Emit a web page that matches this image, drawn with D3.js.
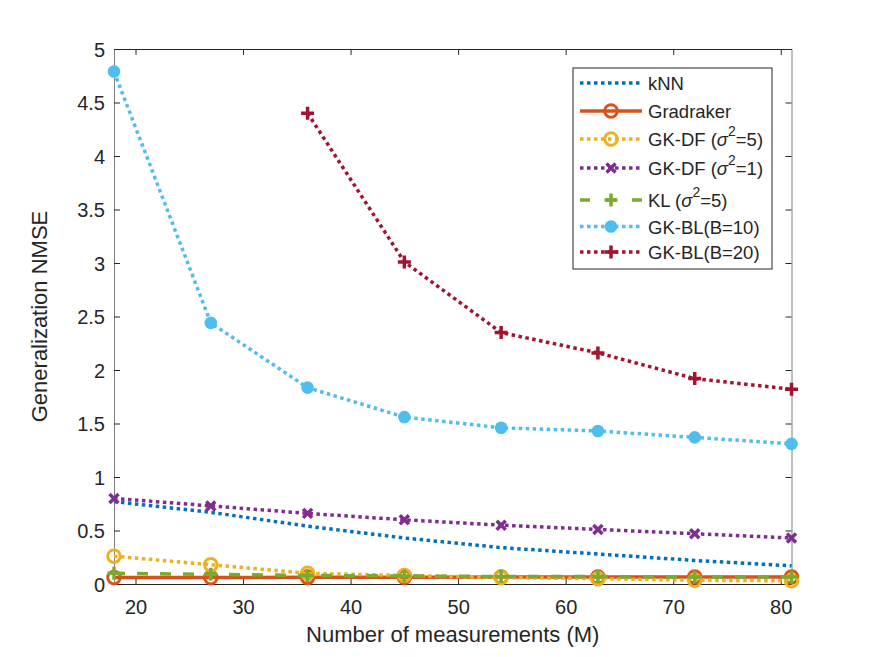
<!DOCTYPE html>
<html><head><meta charset="utf-8">
<script src="https://cdn.jsdelivr.net/npm/d3@7"></script>
<style>body{margin:0;background:#fff}svg{display:block}text{font-family:"Liberation Sans",Arial,sans-serif}</style>
</head><body>
<svg id="c" width="875" height="657"></svg>
<script>
const M = [18, 27, 36, 45, 54, 63, 72, 81];
const M_BL20 = [36, 45, 54, 63, 72, 81];
const knn = [0.77, 0.67, 0.54, 0.43, 0.34, 0.28, 0.22, 0.17];
const gradraker = [0.06, 0.06, 0.062, 0.064, 0.065, 0.065, 0.066, 0.066];
const gkdf5 = [0.26, 0.18, 0.10, 0.08, 0.06, 0.05, 0.035, 0.03];
const gkdf1 = [0.80, 0.73, 0.66, 0.60, 0.55, 0.51, 0.47, 0.43];
const kl5 = [0.10, 0.09, 0.08, 0.075, 0.07, 0.07, 0.065, 0.065];
const gkbl10 = [4.79, 2.44, 1.835, 1.56, 1.46, 1.43, 1.37, 1.31];
const gkbl20 = [4.40, 3.01, 2.35, 2.16, 1.92, 1.82];
const xTicks = [20, 30, 40, 50, 60, 70, 80];
const yTicks = [0, 0.5, 1, 1.5, 2, 2.5, 3, 3.5, 4, 4.5, 5];

const svg = d3.select("#c");
const L = 114, R = 791.5, T = 49, B = 584;
const x = d3.scaleLinear().domain([18, 81]).range([L, R]);
const y = d3.scaleLinear().domain([0, 5]).range([B, T]);

// axes
const axCol = "#262626", yCol = "#808080";
const gx = svg.append("g").attr("transform", `translate(0,${B})`)
  .call(d3.axisBottom(x).tickValues(xTicks).tickSize(-6).tickSizeOuter(0).tickPadding(16).tickFormat(d3.format("d")));
const gxt = svg.append("g").attr("transform", `translate(0,${T})`)
  .call(d3.axisTop(x).tickValues(xTicks).tickSize(-6).tickSizeOuter(0).tickFormat(""));
const gy = svg.append("g").attr("transform", `translate(${L},0)`)
  .call(d3.axisLeft(y).tickValues(yTicks).tickSize(-6).tickSizeOuter(0).tickPadding(9).tickFormat(d => d3.format("")(d)));
const gyr = svg.append("g").attr("transform", `translate(${R},0)`)
  .call(d3.axisRight(y).tickValues(yTicks).tickSize(-6).tickSizeOuter(0).tickFormat(""));
[gx, gxt].forEach(g => { g.selectAll("path,line").attr("stroke", axCol); });
[gy, gyr].forEach(g => { g.selectAll("path,line").attr("stroke", yCol); g.selectAll("line").attr("stroke", axCol); });
[gx, gy].forEach(g => g.selectAll("text").attr("fill", axCol).style("font-size", "20px").style("font-family", '"Liberation Sans",Arial,sans-serif'));
gx.selectAll("text").attr("dy", "0.71em");
gy.selectAll("text").attr("dy", "0.36em");

svg.append("text").attr("x", (L + R) / 2).attr("y", 642).attr("text-anchor", "middle")
  .attr("fill", axCol).style("font-size", "22px").text("Number of measurements (M)");
svg.append("text").attr("transform", `translate(47,${(T + B) / 2}) rotate(-90)`).attr("text-anchor", "middle")
  .attr("fill", axCol).style("font-size", "22px").text("Generalization NMSE");

const plot = svg.append("g");
const line = d3.line().x(d => x(d[0])).y(d => y(d[1]));
const zip = (xs, ys) => xs.map((v, i) => [v, ys[i]]);

const series = [
  {name: "kNN", xs: M, ys: knn, color: "#0072BD", dash: "3.5,3.5", marker: null},
  {name: "Gradraker", xs: M, ys: gradraker, color: "#D95319", dash: null, marker: "o"},
  {name: "GK-DF5", xs: M, ys: gkdf5, color: "#EDB120", dash: "3.5,3.5", marker: "o"},
  {name: "GK-DF1", xs: M, ys: gkdf1, color: "#7E2F8E", dash: "3.5,3.5", marker: "x"},
  {name: "KL5", xs: M, ys: kl5, color: "#77AC30", dash: "11,12", marker: "+"},
  {name: "BL10", xs: M, ys: gkbl10, color: "#4DBEEE", dash: "3.5,3.5", marker: "dot"},
  {name: "BL20", xs: M_BL20, ys: gkbl20, color: "#A2142F", dash: "3.5,3.5", marker: "+"}
];

function drawMarker(g, type, cx, cy, color) {
  if (type === "o") {
    g.append("circle").attr("cx", cx).attr("cy", cy).attr("r", 6.3).attr("fill", "none").attr("stroke", color).attr("stroke-width", 3);
  } else if (type === "dot") {
    g.append("circle").attr("cx", cx).attr("cy", cy).attr("r", 6.3).attr("fill", color);
  } else if (type === "x") {
    const s = 4.5;
    g.append("path").attr("d", `M${cx - s},${cy - s}L${cx + s},${cy + s}M${cx - s},${cy + s}L${cx + s},${cy - s}`)
      .attr("stroke", color).attr("stroke-width", 3.5).attr("fill", "none");
  } else if (type === "+") {
    const s = 6.5;
    g.append("path").attr("d", `M${cx - s},${cy}L${cx + s},${cy}M${cx},${cy - s}L${cx},${cy + s}`)
      .attr("stroke", color).attr("stroke-width", 3.5).attr("fill", "none");
  }
}

series.forEach(s => {
  const data = zip(s.xs, s.ys);
  plot.append("path").datum(data).attr("d", line).attr("fill", "none")
    .attr("stroke", s.color).attr("stroke-width", 3.5)
    .attr("stroke-dasharray", s.dash);
  if (s.marker) data.forEach(d => drawMarker(plot, s.marker, x(d[0]), y(d[1]), s.color));
});

// legend
const lg = svg.append("g");
lg.append("rect").attr("x", 573).attr("y", 68).attr("width", 199).attr("height", 201)
  .attr("fill", "#fff").attr("stroke", axCol).attr("stroke-width", 1);
const rowY = [83, 111, 139, 168, 200, 226.5, 252];
const labels = [
  [["kNN"]],
  [["Gradraker"]],
  [["GK-DF ("], ["σ", "it"], ["2", "sup"], ["=5)", "down"]],
  [["GK-DF ("], ["σ", "it"], ["2", "sup"], ["=1)", "down"]],
  [["KL ("], ["σ", "it"], ["2", "sup"], ["=5)", "down"]],
  [["GK-BL(B=10)"]],
  [["GK-BL(B=20)"]]
];
series.forEach((s, i) => {
  const cy = rowY[i];
  lg.append("line").attr("x1", 580).attr("x2", 642).attr("y1", cy).attr("y2", cy)
    .attr("stroke", s.color).attr("stroke-width", 3.5)
    .attr("stroke-dasharray", s.dash === "11,12" ? "10,16" : s.dash);
  if (s.marker) drawMarker(lg, s.marker, 611, cy, s.color);
  const t = lg.append("text").attr("x", 648).attr("y", cy + 7).attr("fill", axCol).style("font-size", "18.5px");
  labels[i].forEach(p => {
    const ts = t.append("tspan").text(p[0]);
    if (p[1] === "it") ts.style("font-style", "italic");
    if (p[1] === "sup") ts.attr("dy", -10).style("font-size", "14px");
    if (p[1] === "down") ts.attr("dy", 10);
  });
});
</script>
</body></html>
